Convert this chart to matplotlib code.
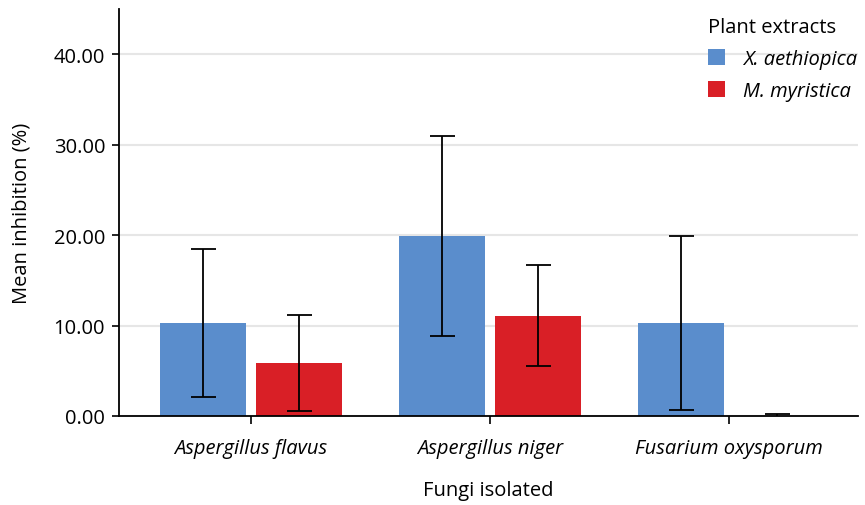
import matplotlib
matplotlib.use("Agg")
import matplotlib.pyplot as plt
import numpy as np

categories = ["Aspergillus flavus", "Aspergillus niger", "Fusarium oxysporum"]
series_names = ["X. aethiopica", "M. myristica"]
x_aeth_mean = [10.3, 19.9, 10.3]
x_aeth_err = [8.2, 11.1, 9.6]
m_myr_mean = [5.9, 11.1, 0.0]
m_myr_err = [5.3, 5.6, 0.2]
yticks = [0, 10, 20, 30, 40]
ytick_labels = ["0.00", "10.00", "20.00", "30.00", "40.00"]

colors = ["#5a8dcc", "#d91f26"]

plt.rcParams['font.family'] = ['Open Sans', 'DejaVu Sans']
FS = 14.5

fig = plt.figure(figsize=(8.65, 5.06), dpi=100)
ax = fig.add_axes([0.1376, 0.1759, 0.992 - 0.1376, 0.980 - 0.1759])

x = np.arange(len(categories))
w = 0.36
off = 0.199
ekw = dict(ecolor="black", elinewidth=1.3, capthick=1.3)
ax.bar(x - off, x_aeth_mean, w, yerr=x_aeth_err, color=colors[0], capsize=9,
       error_kw=ekw, label=series_names[0], zorder=2)
ax.bar(x + off, m_myr_mean, w, yerr=m_myr_err, color=colors[1], capsize=9,
       error_kw=ekw, label=series_names[1], zorder=2)

ax.set_xlim(-0.552, 2.54)
ax.set_ylim(0, 45)
ax.set_yticks(yticks)
ax.set_yticklabels(ytick_labels)
ax.set_xticks(x)
ax.set_xticklabels(categories, fontstyle="italic")
ax.tick_params(axis="both", labelsize=FS, color="black", direction="out")
ax.tick_params(axis="y", length=5, width=1.2, pad=5)
ax.tick_params(axis="x", length=6, width=1.2, pad=10)

ax.yaxis.grid(True, color="#e6e6e6", linewidth=1.5, zorder=0)
ax.set_axisbelow(True)
for s in ["top", "right"]:
    ax.spines[s].set_visible(False)
for s in ["left", "bottom"]:
    ax.spines[s].set_linewidth(1.3)

ax.set_ylabel("Mean inhibition (%)", fontsize=FS, labelpad=16)
ax.set_xlabel("Fungi isolated", fontsize=FS, labelpad=16)

leg = ax.legend(title="Plant extracts", loc="upper right", frameon=False,
                fontsize=FS, title_fontsize=FS, handlelength=0.85, handleheight=0.85,
                handletextpad=0.9, borderaxespad=0.0, bbox_to_anchor=(1.01, 1.0),
                alignment="left", labelspacing=0.6)
for t in leg.get_texts():
    t.set_fontstyle("italic")

fig.savefig("out.png", dpi=100)
